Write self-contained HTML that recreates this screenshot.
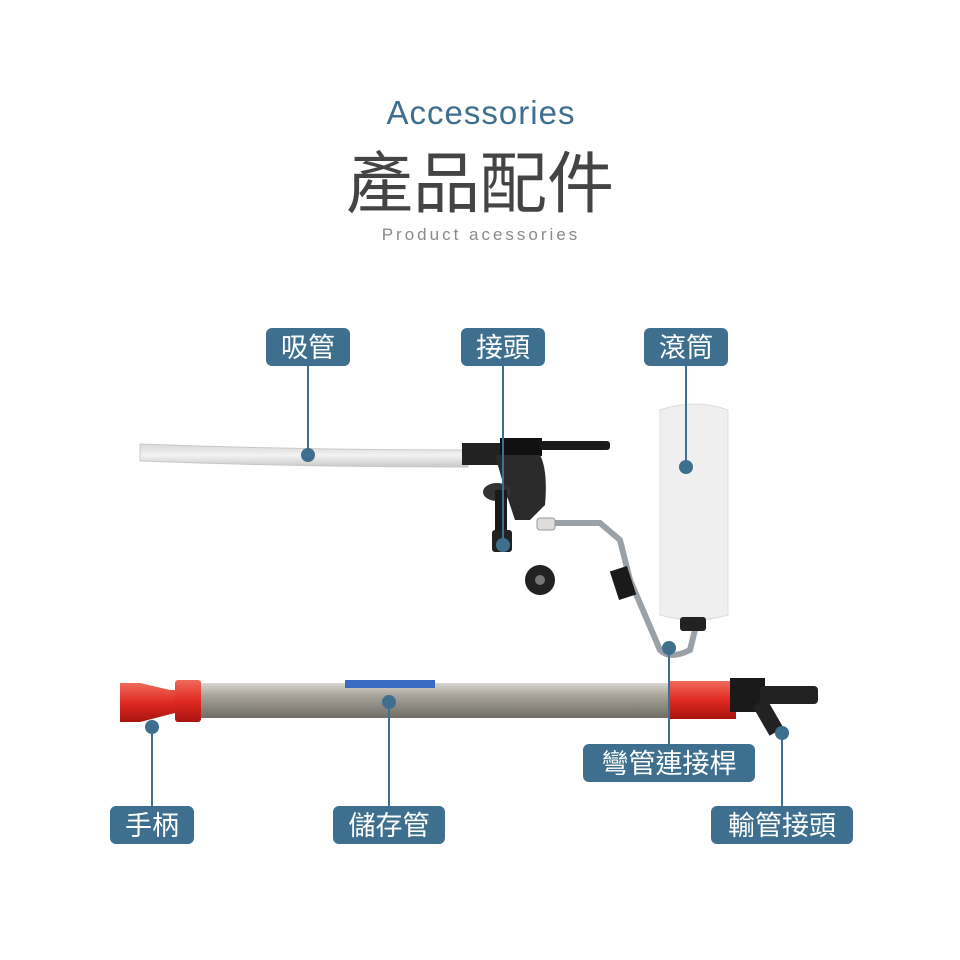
<!DOCTYPE html><html><head><meta charset="utf-8"><style>body{margin:0;background:#fff}svg{display:block}</style></head><body>
<svg width="960" height="960" viewBox="0 0 960 960" xmlns="http://www.w3.org/2000/svg">
<defs>
<linearGradient id="pole" x1="0" y1="0" x2="0" y2="1"><stop offset="0" stop-color="#d8d6d0"/><stop offset="0.35" stop-color="#a9a59c"/><stop offset="1" stop-color="#6f6c66"/></linearGradient>
<linearGradient id="red" x1="0" y1="0" x2="0" y2="1"><stop offset="0" stop-color="#f06a5a"/><stop offset="0.5" stop-color="#e02a22"/><stop offset="1" stop-color="#a8140f"/></linearGradient>
<linearGradient id="tube" x1="0" y1="0" x2="0" y2="1"><stop offset="0" stop-color="#d8d8d8"/><stop offset="0.5" stop-color="#f2f2f2"/><stop offset="1" stop-color="#c8c8c8"/></linearGradient>
</defs>
<text x="481" y="124" text-anchor="middle" font-family="Liberation Sans, sans-serif" font-size="33" fill="#3e6f8e" letter-spacing="1">Accessories</text>
<text x="480" y="207" text-anchor="middle" font-family="Liberation Sans, 'Noto Sans CJK TC', sans-serif" font-size="67" fill="#444">產品配件</text>
<text x="481" y="240" text-anchor="middle" font-family="Liberation Sans, sans-serif" font-size="17" fill="#8a8a8a" letter-spacing="3">Product acessories</text>
<path d="M140 444 Q300 450 468 450 L468 467 Q300 467 140 461 Z" fill="url(#tube)" stroke="#c8c8c8"/>
<rect x="462" y="443" width="40" height="22" fill="#222"/>
<rect x="500" y="438" width="42" height="18" fill="#111"/>
<rect x="540" y="441" width="70" height="9" rx="3" fill="#1a1a1a"/>
<path d="M495 455 L540 455 Q548 470 545 505 L530 520 L515 520 L505 490 Z" fill="#2a2a2a"/>
<ellipse cx="497" cy="492" rx="14" ry="9" fill="#333"/>
<rect x="495" y="490" width="12" height="45" fill="#1a1a1a"/>
<rect x="492" y="530" width="20" height="22" rx="3" fill="#222"/>
<circle cx="540" cy="580" r="15" fill="#222"/><circle cx="540" cy="580" r="5" fill="#777"/>
<path d="M540 523 L600 523 L620 540 L630 580 L660 650 Q670 660 690 650 L695 630" fill="none" stroke="#9aa2a8" stroke-width="6"/>
<rect x="537" y="518" width="18" height="12" rx="3" fill="#ddd" stroke="#999"/>
<rect x="614" y="568" width="18" height="30" fill="#1a1a1a" transform="rotate(-18 623 583)"/>
<path d="M660 410 Q695 398 728 410 L728 615 Q695 625 660 615 Z" fill="#efefef" stroke="#dcdcdc"/>
<rect x="680" y="617" width="26" height="14" rx="3" fill="#222"/>
<rect x="195" y="683" width="480" height="35" fill="url(#pole)"/>
<rect x="345" y="680" width="90" height="8" fill="#3b6cc4"/>
<rect x="668" y="681" width="68" height="38" fill="url(#red)"/>
<rect x="175" y="680" width="26" height="42" rx="3" fill="url(#red)"/>
<path d="M120 683 L140 683 L170 690 L175 690 L175 713 L140 722 L120 722 Z" fill="url(#red)"/>
<rect x="730" y="678" width="35" height="34" fill="#1a1a1a"/>
<rect x="760" y="686" width="58" height="18" rx="4" fill="#222"/>
<rect x="760" y="700" width="16" height="34" fill="#222" transform="rotate(-30 768 717)"/>
<g stroke="#3e6f8e" stroke-width="2">
<line x1="308" y1="366" x2="308" y2="455"/><line x1="503" y1="366" x2="503" y2="545"/><line x1="686" y1="366" x2="686" y2="467"/>
<line x1="669" y1="648" x2="669" y2="744"/><line x1="152" y1="727" x2="152" y2="806"/><line x1="389" y1="702" x2="389" y2="806"/><line x1="782" y1="733" x2="782" y2="806"/>
</g>
<g fill="#3e6f8e"><circle cx="308" cy="455" r="7"/><circle cx="503" cy="545" r="7"/><circle cx="686" cy="467" r="7"/><circle cx="669" cy="648" r="7"/><circle cx="152" cy="727" r="7"/><circle cx="389" cy="702" r="7"/><circle cx="782" cy="733" r="7"/></g>
<g fill="#3e6f8e">
<rect x="266" y="328" width="84" height="38" rx="6"/><rect x="461" y="328" width="84" height="38" rx="6"/><rect x="644" y="328" width="84" height="38" rx="6"/>
<rect x="583" y="744" width="172" height="38" rx="6"/><rect x="110" y="806" width="84" height="38" rx="6"/><rect x="333" y="806" width="112" height="38" rx="6"/><rect x="711" y="806" width="142" height="38" rx="6"/>
</g>
<g fill="#fff" font-family="Liberation Sans, 'Noto Sans CJK TC', sans-serif" font-size="27" text-anchor="middle">
<text x="308" y="357">吸管</text><text x="503" y="357">接頭</text><text x="686" y="357">滾筒</text>
<text x="669" y="773">彎管連接桿</text><text x="152" y="835">手柄</text><text x="389" y="835">儲存管</text><text x="782" y="835">輸管接頭</text>
</g>
</svg></body></html>
